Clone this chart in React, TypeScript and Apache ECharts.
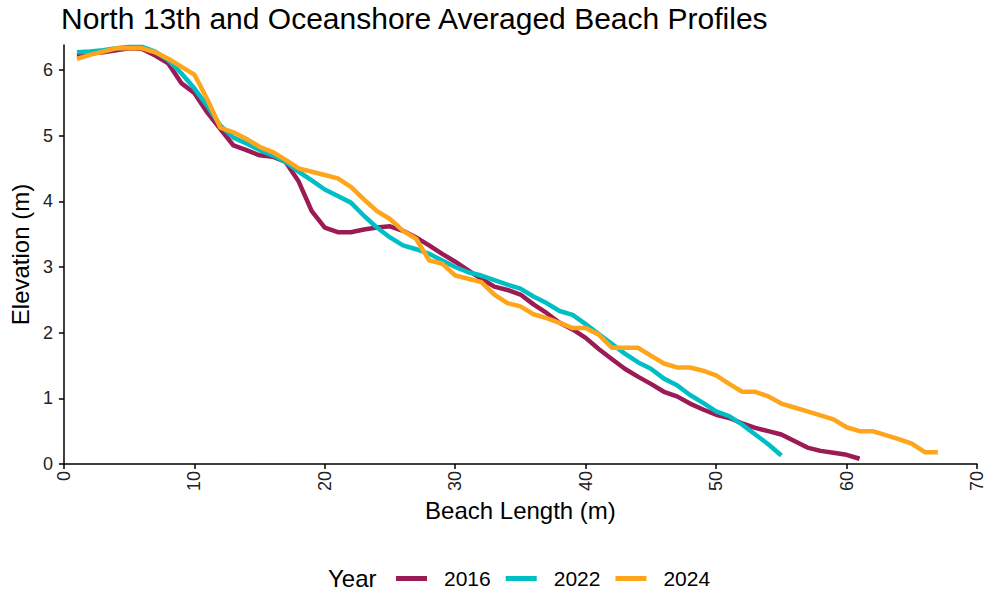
import { useEffect, useRef } from "react";
import * as echarts from "echarts";

const FONT = "'Liberation Sans', Arial, sans-serif";

const YEARS = ["2016", "2022", "2024"];
const COLORS = ["#9B1B55", "#00BFC4", "#FFA51C"];

const X_TICKS = [0, 10, 20, 30, 40, 50, 60, 70];
const Y_TICKS = [0, 1, 2, 3, 4, 5, 6];

// elevations (m) at each metre of beach length, starting at 1 m
const ELEV_2016 = [
  6.22, 6.25, 6.27, 6.3, 6.33, 6.32, 6.22, 6.1, 5.8, 5.65,
  5.35, 5.1, 4.85, 4.78, 4.7, 4.68, 4.6, 4.3, 3.85, 3.6,
  3.53, 3.53, 3.57, 3.6, 3.62, 3.55, 3.45, 3.33, 3.2, 3.08,
  2.95, 2.82, 2.7, 2.65, 2.58, 2.43, 2.3, 2.15, 2.05, 1.92,
  1.75, 1.6, 1.45, 1.33, 1.22, 1.1, 1.03, 0.92, 0.83, 0.75,
  0.7, 0.62, 0.55, 0.5, 0.45, 0.35, 0.25, 0.2, 0.17, 0.14,
  0.08,
];

const ELEV_2022 = [
  6.27, 6.28, 6.3, 6.33, 6.35, 6.35, 6.28, 6.15, 5.95, 5.72,
  5.45, 5.15, 4.97, 4.88, 4.78, 4.7, 4.6, 4.45, 4.32, 4.18,
  4.08, 3.98, 3.78, 3.6, 3.45, 3.33, 3.27, 3.2, 3.1, 3.0,
  2.92, 2.87, 2.8, 2.73, 2.67, 2.55, 2.45, 2.33, 2.27, 2.13,
  1.98, 1.83, 1.68, 1.55, 1.45, 1.3, 1.2, 1.05, 0.93, 0.8,
  0.73, 0.6, 0.45, 0.3, 0.13,
];

const ELEV_2024 = [
  6.17, 6.23, 6.28, 6.33, 6.33, 6.33, 6.27, 6.17, 6.05, 5.93,
  5.55, 5.12, 5.05, 4.95, 4.83, 4.75, 4.63, 4.5, 4.45, 4.4,
  4.35, 4.22, 4.03, 3.85, 3.73, 3.55, 3.43, 3.1, 3.05, 2.87,
  2.82, 2.77, 2.58, 2.45, 2.4, 2.28, 2.22, 2.15, 2.07, 2.07,
  1.97, 1.77, 1.77, 1.77, 1.65, 1.53, 1.47, 1.47, 1.42, 1.35,
  1.22, 1.1, 1.1, 1.03, 0.92, 0.86, 0.8, 0.74, 0.68, 0.56,
  0.5, 0.5, 0.44, 0.38, 0.31, 0.18, 0.18,
];

const ELEVATIONS = [ELEV_2016, ELEV_2022, ELEV_2024];

function toPoints(values: number[]) {
  return values.map((v, i) => [i + 1, v]);
}

export default function App() {
  const ref = useRef<HTMLDivElement>(null);

  useEffect(() => {
    document.body.style.margin = "0";
    if (!ref.current) {
      return;
    }
    const chart = echarts.init(ref.current, null, { renderer: "svg" });

    const axisLine = { show: true, lineStyle: { color: "#000", width: 1.5 } };
    const axisTick = { show: true, length: 5, lineStyle: { color: "#000", width: 1.5 } };

    chart.setOption({
      animation: false,
      backgroundColor: "#fff",
      textStyle: { fontFamily: FONT },
      title: {
        text: "North 13th and Oceanshore Averaged Beach Profiles",
        left: 61,
        top: 3,
        padding: 0,
        textStyle: { fontSize: 30, fontWeight: "normal", color: "#000", fontFamily: FONT },
      },
      grid: { left: 60, top: 45, width: 917, height: 419 },
      xAxis: {
        type: "value",
        min: 0,
        max: 70,
        interval: 10,
        name: "Beach Length (m)",
        nameLocation: "middle",
        nameGap: 34,
        nameTextStyle: { fontSize: 24, color: "#000", fontFamily: FONT },
        axisLine,
        axisTick: { ...axisTick, customValues: X_TICKS },
        axisLabel: {
          customValues: X_TICKS,
          rotate: 90,
          margin: 7,
          fontSize: 18,
          color: "#222",
          fontFamily: FONT,
        },
        splitLine: { show: false },
      },
      yAxis: {
        type: "value",
        min: 0,
        max: 6.38,
        interval: 1,
        name: "Elevation (m)",
        nameLocation: "middle",
        nameGap: 26,
        nameTextStyle: { fontSize: 24, color: "#000", fontFamily: FONT },
        axisLine,
        axisTick: { ...axisTick, customValues: Y_TICKS },
        axisLabel: {
          customValues: Y_TICKS,
          margin: 11,
          fontSize: 18,
          color: "#222",
          fontFamily: FONT,
        },
        splitLine: { show: false },
      },
      legend: {
        data: YEARS,
        left: 396,
        top: 568,
        padding: 0,
        icon: "rect",
        itemWidth: 31,
        itemHeight: 5,
        itemGap: 15,
        textStyle: { fontSize: 21, color: "#000", fontFamily: FONT, padding: [0, 0, 0, 12] },
      },
      graphic: [
        {
          type: "text",
          left: 328,
          top: 566,
          style: { text: "Year", fontSize: 24, fill: "#000", fontFamily: FONT },
        },
      ],
      series: YEARS.map((year, i) => ({
        name: year,
        type: "line",
        data: toPoints(ELEVATIONS[i]),
        showSymbol: false,
        symbol: "none",
        color: COLORS[i],
        lineStyle: { width: 4.5, color: COLORS[i], join: "round" },
        z: 2 + i,
      })),
    });

    return () => {
      chart.dispose();
    };
  }, []);

  return <div ref={ref} style={{ width: 991, height: 595 }} />;
}
